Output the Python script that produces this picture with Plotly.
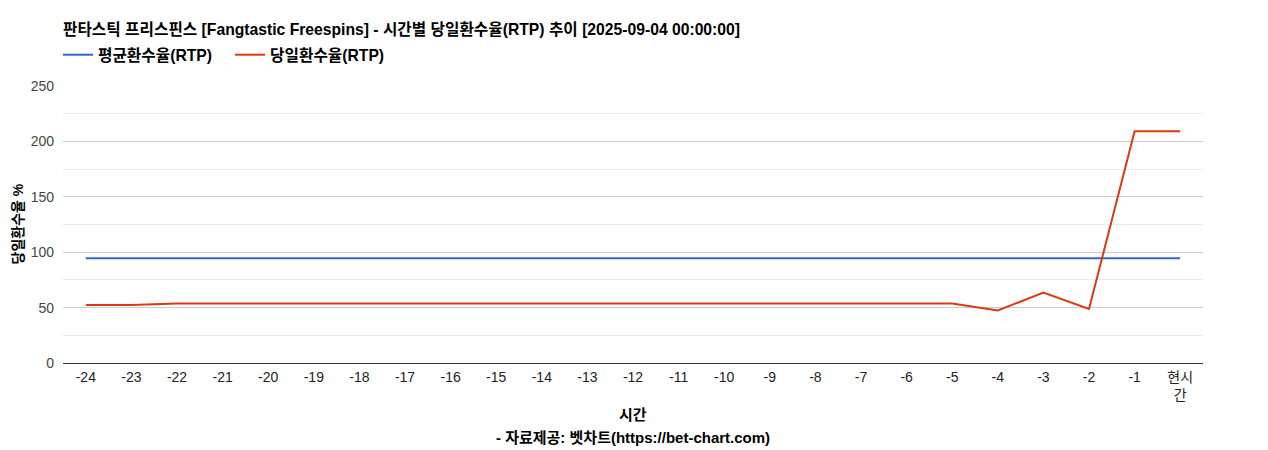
import plotly.graph_objects as go

hours = [str(h) for h in range(-24, 0)] + ["현시<br>간"]
avg_rtp = [94.5] * 25
daily_rtp = [52.3, 52.3, 53.7, 53.7, 53.7, 53.7, 53.7, 53.7, 53.7, 53.7,
             53.7, 53.7, 53.7, 53.7, 53.7, 53.7, 53.7, 53.7, 53.7, 53.7,
             47.4, 63.6, 48.7, 209.2, 209.2]

W, H = 1260, 442  # page body has an 8px margin
fig = go.Figure()
fig.add_trace(go.Scatter(x=hours, y=avg_rtp, mode="lines",
                         name="<b>평균환수율(RTP)</b>\u00a0\u00a0\u00a0",
                         line=dict(color="#3366cc", width=2)))
fig.add_trace(go.Scatter(x=hours, y=daily_rtp, mode="lines",
                         name="<b>당일환수율(RTP)</b>",
                         line=dict(color="#dc3912", width=2)))

font_kr = "Arial, 'Liberation Sans', 'Noto Sans CJK KR', sans-serif"

fig.update_layout(
    width=W, height=H,
    margin=dict(l=55, r=65, t=78, b=87, autoexpand=False),
    plot_bgcolor="white", paper_bgcolor="white",
    font=dict(family=font_kr, size=14, color="#222"),
    title=dict(text="<b>판타스틱 프리스핀스 [Fangtastic Freespins] - 시간별 당일환수율(RTP) 추이 [2025-09-04 00:00:00]</b>",
               x=55 / W, xanchor="left", y=1 - 22 / H, yanchor="middle",
               font=dict(size=15.7, color="#000")),
    legend=dict(orientation="h", xref="container", x=50 / W, xanchor="left",
                yref="container", y=1 - 47 / H, yanchor="middle",
                font=dict(size=15.7, color="#000"), itemwidth=30),
    showlegend=True,
    annotations=[
        dict(text="<b>시간</b>", xref="paper", yref="paper", x=0.5, y=-51 / 277,
             yanchor="middle", showarrow=False, font=dict(size=15, color="#000")),
        dict(text="<b>- 자료제공: 벳차트(https://bet-chart.com)</b>", xref="paper", yref="paper",
             x=0.5, y=-74 / 277, yanchor="middle", showarrow=False,
             font=dict(size=15, color="#000")),
        dict(text="<b>당일환수율 %</b>", xref="paper", yref="paper", x=0, y=0.5,
             xshift=-46, xanchor="center", yanchor="middle", textangle=-90,
             showarrow=False, font=dict(size=14, color="#000")),
    ],
)

fig.update_xaxes(type="category", range=[-0.5, 24.5], showgrid=False, showline=False,
                 ticks="", tickfont=dict(size=14, color="#222"), ticklabelstandoff=4)
fig.update_yaxes(range=[0, 250], dtick=50, gridcolor="#cccccc", gridwidth=1,
                 minor=dict(dtick=25, showgrid=True, gridcolor="#ebebeb"),
                 zeroline=True, zerolinecolor="#333333", zerolinewidth=1,
                 showline=False, ticks="", tickfont=dict(size=14, color="#444"),
                 ticklabelstandoff=8)

fig.write_html("out.html")
